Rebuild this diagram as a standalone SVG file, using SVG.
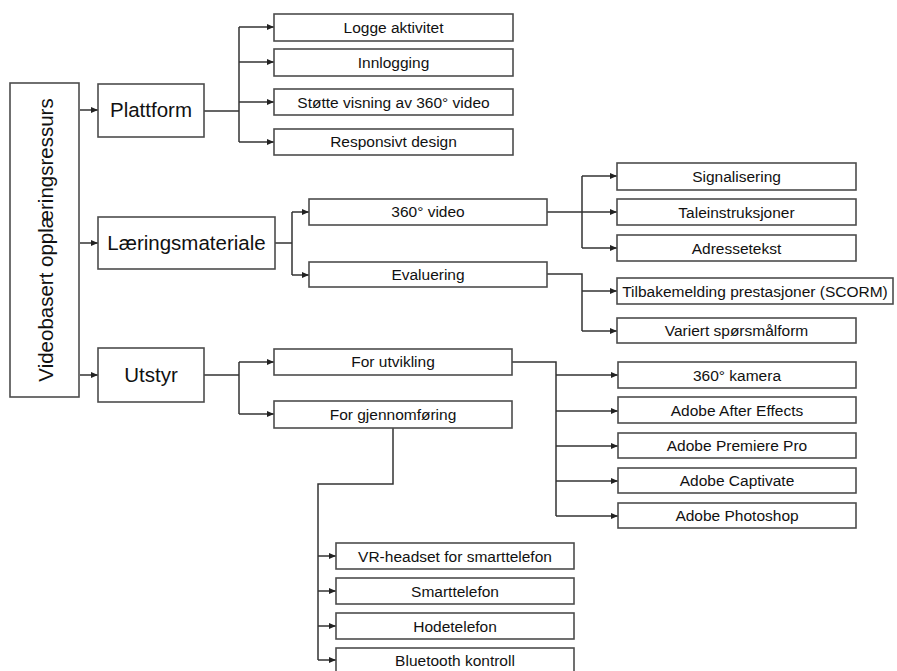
<svg xmlns="http://www.w3.org/2000/svg" width="897" height="671" viewBox="0 0 897 671">
<style>
.box{fill:#fff;stroke:#4d4d4d;stroke-width:1.6}
.t{font-family:"Liberation Sans",Arial,sans-serif;font-size:15.5px;fill:#111;text-anchor:middle}
.big{font-size:20.5px}
.c{fill:none;stroke:#333;stroke-width:1.5}
</style>
<defs>
<marker id="ah" markerUnits="userSpaceOnUse" markerWidth="7" markerHeight="6" refX="7" refY="3" orient="auto">
<path d="M0,0 L7,3 L0,6 z" fill="#222"/>
</marker>
</defs>
<rect width="897" height="671" fill="#fff"/>
<g id="connectors">
<path class="c" d="M80,110 H98" marker-end="url(#ah)"/>
<path class="c" d="M80,243 H98" marker-end="url(#ah)"/>
<path class="c" d="M80,375 H98" marker-end="url(#ah)"/>
<path class="c" d="M204,111 H239 M239,27 V142"/>
<path class="c" d="M239,27 H274" marker-end="url(#ah)"/>
<path class="c" d="M239,62 H274" marker-end="url(#ah)"/>
<path class="c" d="M239,102 H274" marker-end="url(#ah)"/>
<path class="c" d="M239,142 H274" marker-end="url(#ah)"/>
<path class="c" d="M275,243 H292 M292,212 V275"/>
<path class="c" d="M292,212 H309" marker-end="url(#ah)"/>
<path class="c" d="M292,275 H309" marker-end="url(#ah)"/>
<path class="c" d="M547,212 H582 M582,176 V248"/>
<path class="c" d="M582,176 H617" marker-end="url(#ah)"/>
<path class="c" d="M582,212 H617" marker-end="url(#ah)"/>
<path class="c" d="M582,248 H617" marker-end="url(#ah)"/>
<path class="c" d="M547,274 H582 V331"/>
<path class="c" d="M582,291 H617" marker-end="url(#ah)"/>
<path class="c" d="M582,331 H617" marker-end="url(#ah)"/>
<path class="c" d="M204,375 H239 M239,362 V414"/>
<path class="c" d="M239,362 H274" marker-end="url(#ah)"/>
<path class="c" d="M239,414 H274" marker-end="url(#ah)"/>
<path class="c" d="M512,362 H556 V516"/>
<path class="c" d="M556,375 H618" marker-end="url(#ah)"/>
<path class="c" d="M556,411 H618" marker-end="url(#ah)"/>
<path class="c" d="M556,446 H618" marker-end="url(#ah)"/>
<path class="c" d="M556,481 H618" marker-end="url(#ah)"/>
<path class="c" d="M556,516 H618" marker-end="url(#ah)"/>
<path class="c" d="M393,428 V484 H318 V660"/>
<path class="c" d="M318,556 H336" marker-end="url(#ah)"/>
<path class="c" d="M318,591 H336" marker-end="url(#ah)"/>
<path class="c" d="M318,626 H336" marker-end="url(#ah)"/>
<path class="c" d="M318,660 H336" marker-end="url(#ah)"/>
</g>
<g id="root"><rect class="box" x="10" y="83" width="69" height="314"/><text class="t big" transform="translate(53,240) rotate(-90)">Videobasert opplæringsressurs</text></g>
<g id="plattform"><rect class="box" x="98" y="84" width="106" height="53"/><text class="t big" x="151" y="117">Plattform</text></g>
<g id="logge"><rect class="box" x="274" y="14" width="239" height="27"/><text class="t" x="393.5" y="33">Logge aktivitet</text></g>
<g id="innlogging"><rect class="box" x="274" y="49" width="239" height="27"/><text class="t" x="393.5" y="68">Innlogging</text></g>
<g id="stotte"><rect class="box" x="274" y="89" width="239" height="26"/><text class="t" x="393.5" y="107.5">Støtte visning av 360° video</text></g>
<g id="responsivt"><rect class="box" x="274" y="129" width="239" height="26"/><text class="t" x="393.5" y="147">Responsivt design</text></g>
<g id="laering"><rect class="box" x="98" y="217" width="177" height="52"/><text class="t big" x="186.5" y="250">Læringsmateriale</text></g>
<g id="video360"><rect class="box" x="309" y="199" width="238" height="26"/><text class="t" x="428" y="217">360° video</text></g>
<g id="evaluering"><rect class="box" x="309" y="262" width="238" height="25"/><text class="t" x="428" y="279.5">Evaluering</text></g>
<g id="signalisering"><rect class="box" x="617" y="163" width="239" height="27"/><text class="t" x="736.5" y="182">Signalisering</text></g>
<g id="tale"><rect class="box" x="617" y="199" width="239" height="26"/><text class="t" x="736.5" y="217.5">Taleinstruksjoner</text></g>
<g id="adresse"><rect class="box" x="617" y="235" width="239" height="26"/><text class="t" x="736.5" y="253.5">Adressetekst</text></g>
<g id="tilbakemelding"><rect class="box" x="617" y="278" width="276" height="26"/><text class="t" x="755" y="296.5">Tilbakemelding prestasjoner (SCORM)</text></g>
<g id="variert"><rect class="box" x="617" y="318" width="239" height="25"/><text class="t" x="736.5" y="336">Variert spørsmålform</text></g>
<g id="utstyr"><rect class="box" x="98" y="348" width="106" height="54"/><text class="t big" x="151" y="382">Utstyr</text></g>
<g id="utvikling"><rect class="box" x="274" y="349" width="238" height="26"/><text class="t" x="393" y="367">For utvikling</text></g>
<g id="gjennomforing"><rect class="box" x="274" y="401" width="238" height="27"/><text class="t" x="393" y="419.5">For gjennomføring</text></g>
<g id="kamera"><rect class="box" x="618" y="362" width="238" height="26"/><text class="t" x="737" y="380.5">360° kamera</text></g>
<g id="aftereffects"><rect class="box" x="618" y="397" width="238" height="26"/><text class="t" x="737" y="415.5">Adobe After Effects</text></g>
<g id="premiere"><rect class="box" x="618" y="433" width="238" height="25"/><text class="t" x="737" y="451">Adobe Premiere Pro</text></g>
<g id="captivate"><rect class="box" x="618" y="468" width="238" height="25"/><text class="t" x="737" y="486">Adobe Captivate</text></g>
<g id="photoshop"><rect class="box" x="618" y="503" width="238" height="25"/><text class="t" x="737" y="521">Adobe Photoshop</text></g>
<g id="vrheadset"><rect class="box" x="336" y="543" width="238" height="26"/><text class="t" x="455" y="561.5">VR-headset for smarttelefon</text></g>
<g id="smarttelefon"><rect class="box" x="336" y="578" width="238" height="26"/><text class="t" x="455" y="596.5">Smarttelefon</text></g>
<g id="hodetelefon"><rect class="box" x="336" y="613" width="238" height="26"/><text class="t" x="455" y="631.5">Hodetelefon</text></g>
<g id="bluetooth"><rect class="box" x="336" y="648" width="238" height="30"/><text class="t" x="455" y="666">Bluetooth kontroll</text></g>
</svg>
